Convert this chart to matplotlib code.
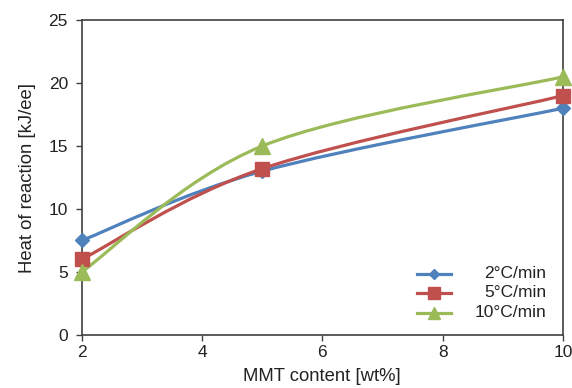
import matplotlib
matplotlib.use("Agg")
import matplotlib.pyplot as plt
from matplotlib.path import Path
from matplotlib.patches import PathPatch

plt.rcParams["font.family"] = ["Liberation Sans", "DejaVu Sans"]

mmt = [2, 5, 10]
heat_2 = [7.5, 13.0, 18.0]
heat_5 = [6.0, 13.2, 19.0]
heat_10 = [5.0, 15.0, 20.5]
labels = ["2°C/min", "5°C/min", "10°C/min"]
colors = ["#4F81BD", "#C0504D", "#9BBB59"]
markers = ["D", "s", "^"]
msizes = [7, 10, 11]


def smooth_path(xs, ys):
    # Catmull-Rom style bezier through the points (like Excel's smoothed line)
    pts = list(zip(xs, ys))
    verts = [pts[0]]
    codes = [Path.MOVETO]
    n = len(pts)
    for i in range(n - 1):
        p0 = pts[i - 1] if i > 0 else pts[i]
        p1 = pts[i]
        p2 = pts[i + 1]
        p3 = pts[i + 2] if i + 2 < n else pts[i + 1]
        c1 = (p1[0] + (p2[0] - p0[0]) / 6, p1[1] + (p2[1] - p0[1]) / 6)
        c2 = (p2[0] - (p3[0] - p1[0]) / 6, p2[1] - (p3[1] - p1[1]) / 6)
        verts += [c1, c2, p2]
        codes += [Path.CURVE4] * 3
    return Path(verts, codes)


fig = plt.figure(figsize=(5.72, 3.88), dpi=100)
ax = fig.add_axes([0.143, 0.137, 0.841, 0.811])

for ys, c, m, ms in zip([heat_2, heat_5, heat_10], colors, markers, msizes):
    ax.add_patch(PathPatch(smooth_path(mmt, ys), facecolor="none", edgecolor=c, lw=2.3, zorder=2))
    ax.plot(mmt, ys, linestyle="none", marker=m, ms=ms, color=c, zorder=3, clip_on=False)

ax.set_xlim(2, 10)
ax.set_ylim(0, 25)
ax.set_xticks([2, 4, 6, 8, 10])
ax.set_yticks([0, 5, 10, 15, 20, 25])
ax.tick_params(direction="out", length=4, width=1, labelsize=12.5, colors="#404040", labelcolor="#222222")
ax.tick_params(axis="y", pad=6)
ax.tick_params(axis="x", pad=3)
for s in ax.spines.values():
    s.set_color("#404040")
    s.set_linewidth(1.2)
ax.set_xlabel("MMT content [wt%]", fontsize=13.3, labelpad=6, color="#222222")
ax.set_ylabel("Heat of reaction [kJ/ee]", fontsize=13.3, labelpad=9, color="#222222")

# legend drawn by hand so the labels can be right-aligned like the original
leg_rows = [0.194, 0.133, 0.070]
for yy, lab, c, m, ms in zip(leg_rows, labels, colors, markers, msizes):
    ax.plot([0.696, 0.767], [yy, yy], transform=ax.transAxes, color=c, lw=2.3)
    ax.plot([0.7315], [yy], transform=ax.transAxes, color=c, marker=m, ms=ms - 2, linestyle="none")
    ax.text(0.965, yy, lab, transform=ax.transAxes, ha="right", va="center", fontsize=12.5, color="#222222")

fig.savefig("out.png", dpi=100)
